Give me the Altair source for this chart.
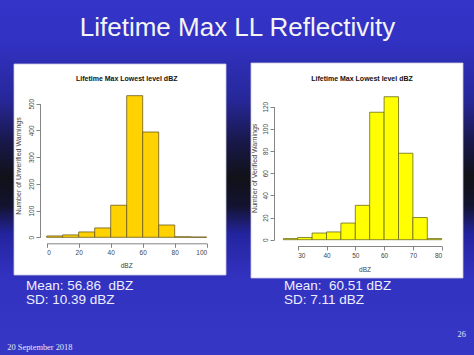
import altair as alt
import pandas as pd

# ---- data ----
left_bin_start = [0, 10, 20, 30, 40, 50, 60, 70, 80, 90]
left_counts = [5, 9, 20, 35, 120, 530, 394, 46, 2, 1]
left_bin_width = 10

right_bin_start = [25, 30, 35, 40, 45, 50, 55, 60, 65, 70, 75]
right_counts = [1, 2, 6, 7, 15, 31, 115, 129, 78, 20, 1]
right_bin_width = 5

left_x_ticks = [0, 20, 40, 60, 80, 100]
left_y_ticks = [0, 100, 200, 300, 400, 500]
right_x_ticks = [30, 40, 50, 60, 70, 80]
right_y_ticks = [0, 20, 40, 60, 80, 100, 120]

slide_title = "Lifetime Max LL Reflectivity"
panel_title = "Lifetime Max Lowest level dBZ"
left_ytitle = "Number of Unverified Warnings"
right_ytitle = "Number of Verified Warnings"
left_stats = ["Mean: 56.86\u00a0 dBZ", "SD: 10.39 dBZ"]
right_stats = ["Mean:\u00a0 60.51 dBZ", "SD: 7.11 dBZ"]
footer_date = "20 September 2018"
page_no = "26"

W, H = 474, 355

left_df = pd.DataFrame({
    "lo": left_bin_start,
    "hi": [b + left_bin_width for b in left_bin_start],
    "count": left_counts,
})
right_df = pd.DataFrame({
    "lo": right_bin_start,
    "hi": [b + right_bin_width for b in right_bin_start],
    "count": right_counts,
})
one = pd.DataFrame({"k": [0]})

gradient = {
    "gradient": "linear", "x1": 0, "x2": 0, "y1": 0, "y2": 1,
    "stops": [
        {"offset": 0.0, "color": "#3434c8"},
        {"offset": 0.12, "color": "#3131c2"},
        {"offset": 0.28, "color": "#27279a"},
        {"offset": 0.40, "color": "#18184a"},
        {"offset": 0.50, "color": "#111118"},
        {"offset": 0.58, "color": "#131330"},
        {"offset": 0.66, "color": "#2424a0"},
        {"offset": 0.78, "color": "#3232c0"},
        {"offset": 1.0, "color": "#3737c6"},
    ],
}

bg = alt.Chart(one).mark_rect(fill=gradient).encode(
    x=alt.value(0), x2=alt.value(W), y=alt.value(0), y2=alt.value(H)
)

panel_l = alt.Chart(one).mark_rect(fill="white", stroke="#c8c8e0", strokeWidth=0.8).encode(
    x=alt.value(14), x2=alt.value(226), y=alt.value(64), y2=alt.value(275)
)
panel_r = alt.Chart(one).mark_rect(fill="white", stroke="#c8c8e0", strokeWidth=0.8).encode(
    x=alt.value(251), x2=alt.value(463), y=alt.value(63), y2=alt.value(278)
)


def txt(s, x, y, size, color, font="Liberation Sans", weight="normal",
        align="left", angle=0):
    return alt.Chart(one).mark_text(
        text=s, font=font, fontSize=size, color=color, fontWeight=weight,
        align=align, baseline="alphabetic", angle=angle
    ).encode(x=alt.value(x), y=alt.value(y))


axis_common = dict(
    title=None, grid=False, tickSize=4, labelFontSize=6.5,
    labelFont="Liberation Sans", labelColor="#444444",
    domainColor="#666666", tickColor="#666666", domainWidth=0.8,
    tickWidth=0.8, labelPadding=2, zindex=2,
)

left_bars = alt.Chart(left_df).mark_rect(
    color="#ffd200", stroke="#6b5a1a", strokeWidth=0.8
).encode(
    x=alt.X("lo:Q", scale=alt.Scale(domain=[0, 100], range=[46.7, 206.7], nice=False),
            axis=alt.Axis(values=left_x_ticks, orient="bottom", offset=243.3 - H, **axis_common)),
    x2="hi:Q",
    y=alt.Y("count:Q", scale=alt.Scale(domain=[0, 500], range=[237.3, 103.7], nice=False),
            axis=alt.Axis(values=left_y_ticks, orient="left", offset=-40, labelAngle=270,
                          labelAlign="center", labelBaseline="bottom", **axis_common)),
    y2=alt.datum(0),
)

right_bars = alt.Chart(right_df).mark_rect(
    color="#ffff00", stroke="#6b6b1a", strokeWidth=0.8
).encode(
    x=alt.X("lo:Q", scale=alt.Scale(domain=[30, 80], range=[297.7, 441.7], nice=False, zero=False),
            axis=alt.Axis(values=right_x_ticks, orient="bottom", offset=246 - H, **axis_common)),
    x2="hi:Q",
    y=alt.Y("count:Q", scale=alt.Scale(domain=[0, 120], range=[239.7, 106.7], nice=False),
            axis=alt.Axis(values=right_y_ticks, orient="left", offset=-274, labelAngle=270,
                          labelAlign="center", labelBaseline="bottom", **axis_common)),
    y2=alt.datum(0),
)

texts = [
    txt(slide_title, 237.5, 36, 26, "#f4f4f4", align="center"),
    txt(panel_title, 126.7, 81, 7, "#111111", weight="bold", align="center"),
    txt(panel_title, 362, 80.5, 7, "#111111", weight="bold", align="center"),
    txt("dBZ", 126.7, 268, 6.5, "#444444", align="center"),
    txt("dBZ", 365, 271.5, 6.5, "#444444", align="center"),
    txt(left_ytitle, 20.5, 166, 7, "#444444", align="center", angle=270),
    txt(right_ytitle, 256.5, 168.3, 7, "#444444", align="center", angle=270),
    txt(left_stats[0], 26, 290, 13.5, "#eeeeff"),
    txt(left_stats[1], 26, 304, 13.5, "#eeeeff"),
    txt(right_stats[0], 284, 290, 13.5, "#eeeeff"),
    txt(right_stats[1], 284, 304, 13.5, "#eeeeff"),
    txt(footer_date, 7.3, 350, 8.4, "#e6e6f0", font="Liberation Serif"),
    txt(page_no, 461.7, 336.5, 8.4, "#e6e6f0", font="Liberation Serif", align="center"),
]

chart = alt.layer(bg, panel_l, panel_r, left_bars, right_bars, *texts).resolve_scale(
    x="independent", y="independent"
).properties(
    width=W, height=H, padding=0, autosize=alt.AutoSizeParams(type="none")
).configure_view(stroke=None)

chart.save("out.html", embed_options={"renderer": "svg", "actions": False})
